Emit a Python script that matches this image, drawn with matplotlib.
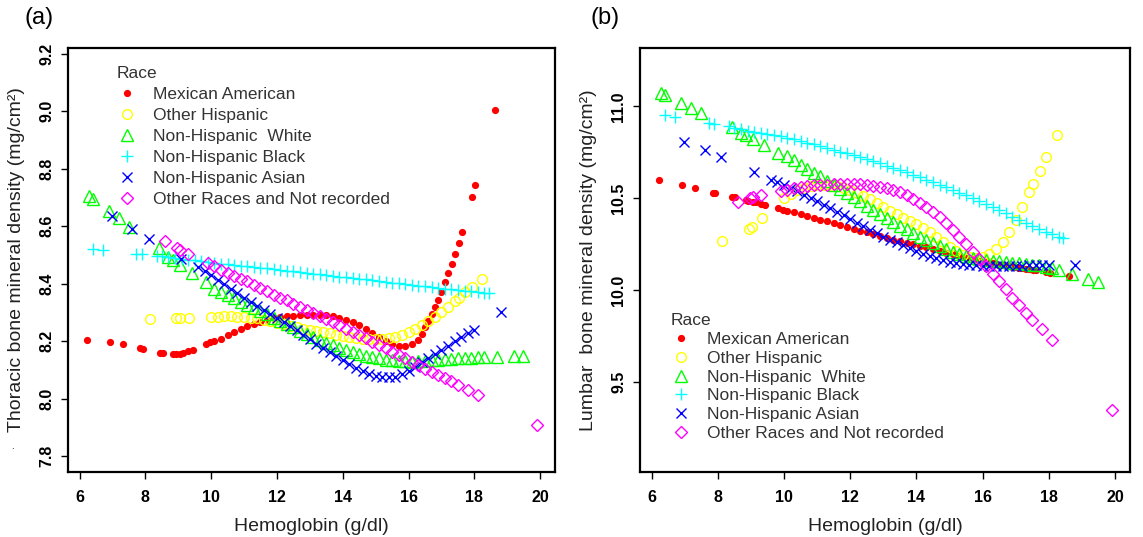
import matplotlib
matplotlib.use("Agg")
import matplotlib.pyplot as plt

plt.rcParams['font.family'] = ['Liberation Sans', 'DejaVu Sans']

races = ['Mexican American', 'Other Hispanic', 'Non-Hispanic  White',
         'Non-Hispanic Black', 'Non-Hispanic Asian', 'Other Races and Not recorded']

# hemoglobin values (g/dl) per race, shared by both panels
hb_mex = [6.22, 6.93, 7.31, 7.85, 7.92, 8.44, 8.53, 8.84, 8.92, 9.05, 9.14, 9.30, 9.44, 9.83, 9.97,
          10.1, 10.3, 10.5, 10.7, 10.9, 11.1, 11.3, 11.5, 11.7, 11.9, 12.1, 12.3, 12.5, 12.7, 12.9, 13.1,
          13.3, 13.5, 13.7, 13.9, 14.1, 14.3, 14.5, 14.7, 14.9, 15.1, 15.3, 15.5, 15.7, 15.9, 16.1, 16.3,
          16.4, 16.5, 16.6, 16.7, 16.8, 16.9, 17.0, 17.1, 17.2, 17.31, 17.41, 17.52, 17.62, 17.92, 18.02, 18.62]
hb_oth = [8.14, 8.94, 9.04, 9.34,
          10.0, 10.2, 10.4, 10.6, 10.8, 11.0, 11.2, 11.4, 11.6, 11.8, 12.0, 12.2, 12.4, 12.6, 12.8, 13.0,
          13.2, 13.4, 13.6, 13.8, 14.0, 14.2, 14.4, 14.6, 14.8, 15.0, 15.2, 15.4, 15.6, 15.8, 16.0, 16.2,
          16.4, 16.6, 16.8, 17.0, 17.2,
          17.41, 17.52, 17.73, 17.92, 18.23]
hb_whi = [6.29, 6.41, 6.90, 7.20, 7.50, 8.42, 8.70, 8.85, 9.05, 9.41, 9.83,
          10.1, 10.3, 10.5, 10.7, 10.9, 11.1, 11.3, 11.5, 11.7, 11.9, 12.1, 12.3, 12.5, 12.7, 12.9, 13.1,
          13.3, 13.5, 13.7, 13.9, 14.1, 14.3, 14.5, 14.7, 14.9, 15.1, 15.3, 15.5, 15.7, 15.9, 16.1, 16.3,
          16.5, 16.7, 16.9, 17.1, 17.3, 17.5, 17.7, 17.9, 18.1, 18.3,
          18.70, 19.19, 19.49]
hb_blk = [6.40, 6.71, 7.73, 7.90, 8.35,
          8.5, 8.7, 8.9, 9.1, 9.3, 9.5, 9.7, 9.9, 10.1, 10.3, 10.5, 10.7, 10.9, 11.1, 11.3, 11.5, 11.7,
          11.9, 12.1, 12.3, 12.5, 12.7, 12.9, 13.1, 13.3, 13.5, 13.7, 13.9, 14.1, 14.3, 14.5, 14.7, 14.9,
          15.1, 15.3, 15.5, 15.7, 15.9, 16.1, 16.3, 16.5, 16.7, 16.9, 17.1, 17.3, 17.5, 17.7, 17.9, 18.1,
          18.3, 18.44]
hb_asn = [6.98, 7.60, 8.11, 9.09,
          9.6, 9.8, 10.0, 10.2, 10.4, 10.6, 10.8, 11.0, 11.2, 11.4, 11.6, 11.8, 12.0, 12.2, 12.4, 12.6,
          12.8, 13.0, 13.2, 13.4, 13.6, 13.8, 14.0, 14.2, 14.4, 14.6, 14.8, 15.0, 15.2, 15.4, 15.6, 15.8,
          16.0, 16.2, 16.4, 16.6, 16.8, 17.0, 17.2, 17.4, 17.6, 17.8, 18.0,
          18.80]
hb_otr = [8.61, 8.97, 9.06, 9.30,
          9.9, 10.1, 10.3, 10.5, 10.7, 10.9, 11.1, 11.3, 11.5, 11.7, 11.9, 12.1, 12.3, 12.5, 12.7, 12.9,
          13.1, 13.3, 13.5, 13.7, 13.9, 14.1, 14.3, 14.5, 14.7, 14.9, 15.1, 15.3, 15.5, 15.7, 15.9, 16.1,
          16.3, 16.5, 16.7, 16.9, 17.1, 17.3, 17.5,
          17.80, 18.10, 19.91]

# (a) thoracic bone mineral density
thor_mex = [8.205, 8.197, 8.189, 8.176, 8.173, 8.159, 8.158, 8.154, 8.154, 8.155, 8.158, 8.165, 8.168, 8.189, 8.196,
            8.200, 8.209, 8.220, 8.232, 8.243, 8.253, 8.261, 8.268, 8.274, 8.279, 8.283, 8.286, 8.288, 8.290,
            8.291, 8.292, 8.292, 8.290, 8.287, 8.282, 8.275, 8.266, 8.255, 8.242, 8.228, 8.214, 8.201, 8.191,
            8.185, 8.184, 8.190, 8.205,
            8.225, 8.248, 8.272, 8.295, 8.319, 8.345, 8.372, 8.405, 8.437, 8.470, 8.504, 8.541, 8.580, 8.703,
            8.745, 9.005]
thor_oth = [8.277, 8.281, 8.281, 8.281,
            8.284, 8.285, 8.286, 8.286, 8.285, 8.284, 8.282, 8.279, 8.275, 8.270, 8.264, 8.259, 8.254, 8.249,
            8.244, 8.239, 8.235, 8.231, 8.227, 8.223, 8.219, 8.215, 8.212, 8.209, 8.207, 8.207, 8.208, 8.211,
            8.216, 8.223, 8.232, 8.243, 8.256, 8.270, 8.285, 8.302, 8.320,
            8.340, 8.352, 8.372, 8.390, 8.416]
thor_whi = [8.704, 8.694, 8.652, 8.628, 8.599, 8.524, 8.493, 8.483, 8.466, 8.439, 8.405,
            8.380, 8.370, 8.360, 8.349, 8.338, 8.327, 8.316, 8.305, 8.293, 8.281, 8.270, 8.259, 8.248, 8.237,
            8.226, 8.215, 8.205, 8.195, 8.186, 8.177, 8.169, 8.162, 8.155, 8.149, 8.144, 8.140, 8.136, 8.133,
            8.131, 8.130, 8.129, 8.130, 8.131, 8.133, 8.135, 8.137, 8.139, 8.141, 8.142, 8.143, 8.144, 8.145,
            8.146, 8.148, 8.150]
thor_blk = [8.521, 8.518, 8.504, 8.503, 8.497,
            8.495, 8.493, 8.490, 8.487, 8.484, 8.482, 8.479, 8.476, 8.473, 8.470, 8.468, 8.465, 8.463, 8.460,
            8.458, 8.455, 8.453, 8.450, 8.448, 8.445, 8.443, 8.440, 8.438, 8.435, 8.433, 8.430, 8.428, 8.425,
            8.423, 8.420, 8.417, 8.415, 8.412, 8.409, 8.407, 8.404, 8.401, 8.398, 8.396, 8.393, 8.391, 8.388,
            8.386, 8.383, 8.381, 8.379, 8.376, 8.374, 8.371, 8.369,
            8.367]
thor_asn = [8.637, 8.590, 8.555, 8.486,
            8.458, 8.444, 8.430, 8.414, 8.398, 8.382, 8.366, 8.350, 8.336, 8.322, 8.308, 8.294, 8.280, 8.266,
            8.252, 8.238, 8.222, 8.206, 8.190, 8.176, 8.162, 8.147, 8.133, 8.120, 8.107, 8.096, 8.086, 8.079,
            8.075, 8.074, 8.077, 8.085, 8.097, 8.111, 8.126, 8.142, 8.157, 8.171, 8.185, 8.199, 8.213, 8.227,
            8.238,
            8.301]
thor_otr = [8.547, 8.524, 8.516, 8.504,
            8.471, 8.461, 8.449, 8.437, 8.428, 8.418, 8.408, 8.397, 8.385, 8.374, 8.362, 8.352, 8.342, 8.331,
            8.320, 8.309, 8.299, 8.288, 8.277, 8.266, 8.255, 8.244, 8.233, 8.222, 8.210, 8.198, 8.187, 8.175,
            8.163, 8.151, 8.140, 8.128, 8.117, 8.105, 8.094, 8.083, 8.072, 8.061, 8.049,
            8.030, 8.012, 7.907]

# (b) lumbar bone mineral density
lumb_mex = [10.600, 10.573, 10.555, 10.531, 10.527, 10.509, 10.506, 10.491, 10.486, 10.481, 10.478, 10.469,
            10.464, 10.445, 10.438,
            10.432, 10.423, 10.413, 10.403, 10.393, 10.383, 10.374, 10.364, 10.354, 10.345, 10.335, 10.325,
            10.315, 10.305, 10.295, 10.285, 10.275, 10.266, 10.257, 10.249, 10.241, 10.233, 10.225, 10.215,
            10.205, 10.195, 10.186, 10.176, 10.168, 10.160, 10.153, 10.146,
            10.143, 10.140, 10.137, 10.134, 10.131, 10.128, 10.125, 10.122, 10.119, 10.116, 10.113, 10.110,
            10.108, 10.099, 10.096, 10.078]
lumb_oth = [10.269, 10.331, 10.345, 10.391,
            10.500, 10.525, 10.545, 10.558, 10.566, 10.571, 10.573, 10.572, 10.566, 10.557, 10.544, 10.530,
            10.513, 10.494, 10.473, 10.452, 10.432, 10.413, 10.395, 10.378, 10.360, 10.340, 10.317, 10.290,
            10.262, 10.236, 10.212, 10.193, 10.181, 10.178, 10.183, 10.198, 10.224, 10.263, 10.315, 10.380,
            10.455,
            10.536, 10.578, 10.651, 10.727, 10.845]
lumb_whi = [11.073, 11.064, 11.018, 10.991, 10.964, 10.887, 10.858, 10.845, 10.822, 10.791, 10.749,
            10.728, 10.706, 10.684, 10.662, 10.640, 10.619, 10.597, 10.575, 10.553, 10.530, 10.507, 10.484,
            10.461, 10.438, 10.415, 10.393, 10.372, 10.351, 10.331, 10.311, 10.292, 10.273, 10.255, 10.238,
            10.222, 10.208, 10.196, 10.186, 10.178, 10.171, 10.166, 10.161, 10.157, 10.153, 10.150, 10.147,
            10.144, 10.140, 10.135, 10.128, 10.120, 10.110,
            10.087, 10.060, 10.045]
lumb_blk = [10.955, 10.945, 10.909, 10.905, 10.891,
            10.885, 10.877, 10.869, 10.863, 10.857, 10.851, 10.844, 10.837, 10.830, 10.821, 10.812, 10.803,
            10.793, 10.783, 10.774, 10.764, 10.754, 10.744, 10.734, 10.724, 10.713, 10.702, 10.690, 10.678,
            10.666, 10.654, 10.641, 10.628, 10.615, 10.602, 10.589, 10.575, 10.561, 10.546, 10.531, 10.516,
            10.500, 10.485, 10.469, 10.453, 10.436, 10.418, 10.400, 10.383, 10.367, 10.350, 10.334, 10.319,
            10.304, 10.290,
            10.282]
lumb_asn = [10.809, 10.764, 10.724, 10.645,
            10.601, 10.587, 10.573, 10.556, 10.538, 10.520, 10.501, 10.483, 10.464, 10.446, 10.427, 10.408,
            10.388, 10.368, 10.348, 10.328, 10.309, 10.292, 10.276, 10.260, 10.244, 10.228, 10.212, 10.197,
            10.184, 10.173, 10.163, 10.155, 10.148, 10.143, 10.139, 10.136, 10.134, 10.133, 10.132, 10.132,
            10.132, 10.133, 10.134, 10.135, 10.136, 10.137, 10.138,
            10.140]
lumb_otr = [10.482, 10.500, 10.505, 10.518,
            10.540, 10.547, 10.555, 10.562, 10.567, 10.571, 10.573, 10.575, 10.577, 10.578, 10.578, 10.577,
            10.576, 10.573, 10.569, 10.564, 10.557, 10.547, 10.533, 10.516, 10.497, 10.476, 10.452, 10.427,
            10.398, 10.366, 10.330, 10.290, 10.249, 10.210, 10.170, 10.130, 10.090, 10.048, 10.005, 9.960,
            9.917, 9.876, 9.840,
            9.791, 9.729, 9.351]

hb_all = [hb_mex, hb_oth, hb_whi, hb_blk, hb_asn, hb_otr]
thor_all = [thor_mex, thor_oth, thor_whi, thor_blk, thor_asn, thor_otr]
lumb_all = [lumb_mex, lumb_oth, lumb_whi, lumb_blk, lumb_asn, lumb_otr]

# R-like pch styles
styles = [
    dict(marker='o', color='#ff0000', ms=5.2, mec='none'),
    dict(marker='o', color='#ffff00', ms=7, mfc='none', mew=1.0),
    dict(marker='^', color='#00ff00', ms=8, mfc='none', mew=1.0),
    dict(marker='+', color='#00ffff', ms=9, mew=1.0),
    dict(marker='x', color='#0000ff', ms=6.5, mew=1.0),
    dict(marker='D', color='#ff00ff', ms=6, mfc='none', mew=1.0),
]

fig = plt.figure(figsize=(11.43, 5.37), dpi=100)
ax_a = fig.add_axes([68 / 1143, 1 - 472 / 537, 487 / 1143, 424 / 537])
ax_b = fig.add_axes([640 / 1143, 1 - 472 / 537, 490 / 1143, 424 / 537])


def draw(ax, ys, ylim, yticks, ylabel, leg_anchor, spacing):
    handles = []
    for x, y, st, name in zip(hb_all, ys, styles, races):
        h, = ax.plot(x, y, linestyle='none', label=name, **st)
        handles.append(h)
    ax.set_xlim(5.65, 20.45)
    ax.set_ylim(*ylim)
    ax.set_xticks([6, 8, 10, 12, 14, 16, 18, 20])
    ax.set_yticks(yticks)
    ax.set_yticklabels(['%.1f' % t for t in yticks], rotation=90, va='center',
                       fontweight='bold', fontsize=11.5)
    ax.set_xticklabels([str(t) for t in [6, 8, 10, 12, 14, 16, 18, 20]],
                       fontweight='bold', fontsize=11.5)
    ax.tick_params(direction='out', length=5, width=1)
    ax.tick_params(axis='x', pad=8)
    ax.tick_params(axis='y', pad=5)
    for s in ax.spines.values():
        s.set_linewidth(1.6)
    ax.set_xlabel('Hemoglobin (g/dl)', fontsize=14, labelpad=9, color='#222222')
    ax.set_ylabel(ylabel, fontsize=14, labelpad=10, color='#222222')
    leg = ax.legend(handles=handles, title='Race', loc='upper left', bbox_to_anchor=leg_anchor,
                    frameon=False, fontsize=12.5, title_fontsize=12.5, alignment='left',
                    borderpad=0, labelspacing=spacing, handlelength=1.2, handletextpad=0.9)
    for t in leg.get_texts():
        t.set_color('#333333')
    leg.get_title().set_color('#333333')


draw(ax_a, thor_all, (7.745, 9.22), [7.8, 8.0, 8.2, 8.4, 8.6, 8.8, 9.0, 9.2],
     'Thoracic bone mineral density (mg/cm\u00b2)', (0.082, 0.978), 0.34)
draw(ax_b, lumb_all, (9.011, 11.318), [9.5, 10.0, 10.5, 11.0],
     'Lumbar  bone mineral density (mg/cm\u00b2)', (0.045, 0.395), 0.21)

fig.text(25 / 1143, 1 - 18 / 537, '(a)', fontsize=17, va='center')
fig.text(590 / 1143, 1 - 18 / 537, '(b)', fontsize=17, va='center')
fig.text(11 / 1143, 1 - 449 / 537, '.', fontsize=7)

fig.savefig('out.png', dpi=100)
